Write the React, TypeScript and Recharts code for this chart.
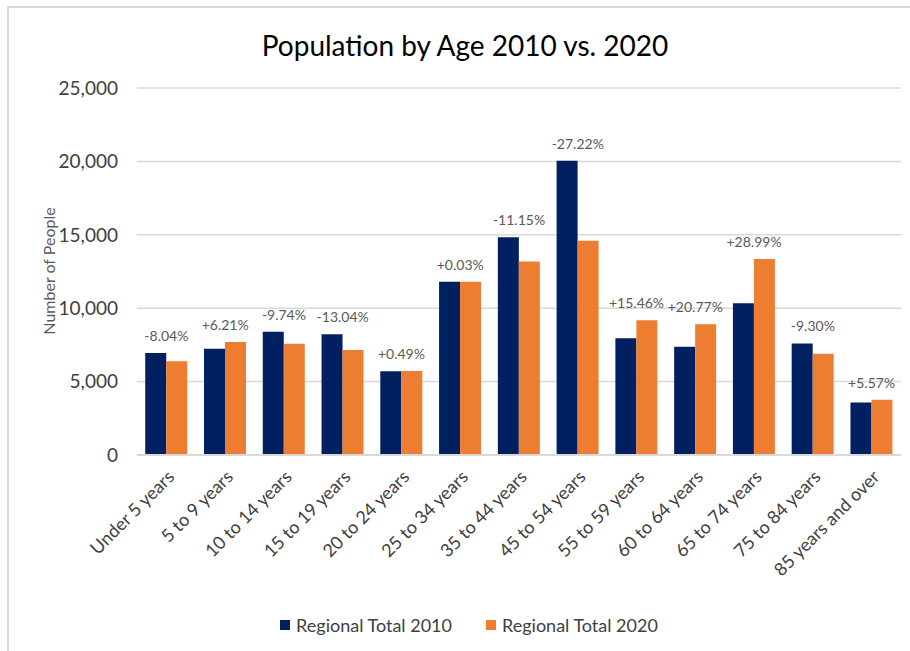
import { ComposedChart, Bar, Line, XAxis, YAxis, CartesianGrid, Legend, LabelList } from 'recharts'

const CATEGORIES = [
  'Under 5 years', '5 to 9 years', '10 to 14 years', '15 to 19 years', '20 to 24 years',
  '25 to 34 years', '35 to 44 years', '45 to 54 years', '55 to 59 years', '60 to 64 years',
  '65 to 74 years', '75 to 84 years', '85 years and over',
]
const TOTAL_2010 = [6940, 7240, 8400, 8220, 5700, 11800, 14840, 20050, 7945, 7375, 10345, 7600, 3570]
const TOTAL_2020 = [6380, 7690, 7580, 7150, 5730, 11805, 13185, 14590, 9175, 8905, 13345, 6895, 3770]
const CHANGE_LABELS = ['-8.04%', '+6.21%', '-9.74%', '-13.04%', '+0.49%', '+0.03%', '-11.15%', '-27.22%', '+15.46%', '+20.77%', '+28.99%', '-9.30%', '+5.57%']
const Y_TICKS = [0, 5000, 10000, 15000, 20000, 25000]

const NAVY = '#002060'
const ORANGE = '#ED7D31'
const FONT = 'Lato, "Open Sans", sans-serif'

const data = CATEGORIES.map((name, i) => ({
  name,
  y2010: TOTAL_2010[i],
  y2020: TOTAL_2020[i],
  top: Math.max(TOTAL_2010[i], TOTAL_2020[i]),
  change: CHANGE_LABELS[i],
}))

function LegendBox() {
  const items = [
    { label: 'Regional Total 2010', color: NAVY },
    { label: 'Regional Total 2020', color: ORANGE },
  ]
  return (
    <div style={{ display: 'flex', justifyContent: 'center', gap: 34, fontFamily: FONT, fontSize: 18, color: '#404040' }}>
      {items.map(it => (
        <div key={it.label} style={{ display: 'flex', alignItems: 'center', gap: 6 }}>
          <span style={{ width: 10, height: 10, background: it.color, display: 'inline-block' }} />
          {it.label}
        </div>
      ))}
    </div>
  )
}

export default function App() {
  return (
    <div style={{ position: 'absolute', left: 0, top: 0, width: 910, height: 651, background: '#fff', overflow: 'hidden' }}>
      <div style={{
        position: 'absolute', left: 7, top: 6, width: 920, height: 660,
        borderTop: '2px solid #d9d9d9', borderLeft: '2px solid #d9d9d9',
      }} />
      <div style={{
        position: 'absolute', left: 0, top: 26, width: 930, textAlign: 'center',
        fontFamily: FONT, fontSize: 28, color: '#000', lineHeight: '38px',
      }}>
        Population by Age 2010 vs. 2020
      </div>
      <div style={{
        position: 'absolute', left: 48, top: 271, transform: 'translate(-50%, -50%) rotate(-90deg)',
        whiteSpace: 'nowrap', fontFamily: FONT, fontSize: 16, color: '#595959', zIndex: 1,
      }}>
        Number of People
      </div>
      <ComposedChart
        width={910}
        height={651}
        data={data}
        margin={{ top: 88, right: 9, left: 37, bottom: 15 }}
        barCategoryGap="14%"
        barGap={0}
      >
        <CartesianGrid vertical={false} stroke="#d9d9d9" strokeWidth={1.5} />
        <XAxis
          dataKey="name"
          interval={0}
          height={159}
          angle={-45}
          textAnchor="end"
          tickLine={false}
          axisLine={{ stroke: '#d9d9d9', strokeWidth: 2 }}
          tick={{ fill: '#404040', fontSize: 18, fontFamily: FONT }}
          tickMargin={8}
        />
        <YAxis
          width={100}
          domain={[0, 25000]}
          ticks={Y_TICKS}
          tickFormatter={v => v.toLocaleString('en-US')}
          tick={{ fill: '#404040', fontSize: 19, fontFamily: FONT }}
          axisLine={false}
          tickLine={false}
          tickMargin={13}
        />
        <Legend verticalAlign="bottom" content={() => <LegendBox />} />
        <Bar dataKey="y2010" fill={NAVY} isAnimationActive={false} />
        <Bar dataKey="y2020" fill={ORANGE} isAnimationActive={false} />
        <Line dataKey="top" stroke="none" dot={false} activeDot={false} legendType="none" isAnimationActive={false}>
          <LabelList dataKey="change" position="top" offset={12} fill="#595959" fontSize={14} fontFamily={FONT} />
        </Line>
      </ComposedChart>
    </div>
  )
}
